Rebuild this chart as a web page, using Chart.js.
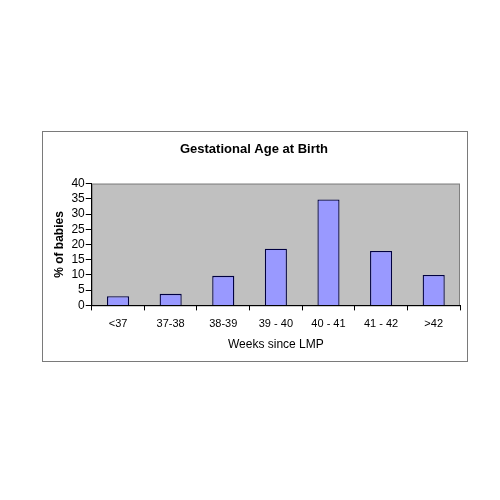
<!DOCTYPE html>
<html>
<head>
<meta charset="utf-8">
<script src="https://cdn.jsdelivr.net/npm/chart.js@4"></script>
<style>
  body { margin: 0; background: #fff; }
  #box {
    position: absolute; left: 42px; top: 131px;
    width: 424px; height: 229px;
    border: 1px solid #7a7a7a;
  }
</style>
</head>
<body>
<div id="box"><canvas id="ageChart"></canvas></div>
<script>
// Chart data
const categories = ['<37', '37-38', '38-39', '39 - 40', '40 - 41', '41 - 42', '>42'];
const percentBabies = [3, 3.8, 9.7, 18.6, 34.8, 17.9, 10];
const yTicks = [0, 5, 10, 15, 20, 25, 30, 35, 40];

// Grey plot area behind the bars
const plotBackground = {
    id: 'plotBackground',
    beforeDraw(chart) {
        const { ctx, chartArea } = chart;
        ctx.save();
        ctx.fillStyle = '#c0c0c0';
        ctx.fillRect(chartArea.left, chartArea.top, chartArea.right - chartArea.left, chartArea.bottom - chartArea.top);
        ctx.strokeStyle = '#808080';
        ctx.lineWidth = 1;
        ctx.strokeRect(chartArea.left + 0.5, chartArea.top + 0.5, chartArea.right - chartArea.left - 1, chartArea.bottom - chartArea.top);
        ctx.restore();
    }
};

document.addEventListener('DOMContentLoaded', function() {
    const ctx = document.getElementById('ageChart').getContext('2d');
    Chart.defaults.font.family = '"Liberation Sans", Arial, sans-serif';
    Chart.defaults.color = '#000';

    new Chart(ctx, {
        type: 'bar',
        data: {
            labels: categories,
            datasets: [{
                data: percentBabies,
                backgroundColor: '#9999ff',
                borderColor: '#000040',
                borderWidth: 1.3,
                categoryPercentage: 1,
                barPercentage: 0.42
            }]
        },
        options: {
            responsive: true,
            maintainAspectRatio: false,
            animation: false,
            layout: { padding: { left: 5, right: 7, top: 4, bottom: 5 } },
            scales: {
                x: {
                    grid: { offset: true, drawOnChartArea: false, color: '#000', tickLength: 5 },
                    border: { color: '#000', width: 1 },
                    ticks: { font: { size: 11 }, maxRotation: 0, autoSkip: false, padding: 7 },
                    title: { display: true, text: 'Weeks since LMP', font: { size: 12 }, padding: { top: 0 } }
                },
                y: {
                    min: 0,
                    max: 40,
                    afterBuildTicks: axis => { axis.ticks = yTicks.map(v => ({ value: v })); },
                    grid: { drawOnChartArea: false, color: '#000', tickLength: 6 },
                    border: { color: '#000', width: 1 },
                    ticks: { font: { size: 12 }, autoSkip: false, padding: 1 },
                    title: { display: true, text: '% of babies', font: { size: 12, weight: 'bold' }, padding: { bottom: 4 } }
                }
            },
            plugins: {
                legend: { display: false },
                tooltip: { enabled: false },
                title: {
                    display: true,
                    text: 'Gestational Age at Birth',
                    font: { size: 13, weight: 'bold' },
                    padding: { top: 6, bottom: 26 }
                }
            }
        },
        plugins: [plotBackground]
    });
});
</script>
</body>
</html>
